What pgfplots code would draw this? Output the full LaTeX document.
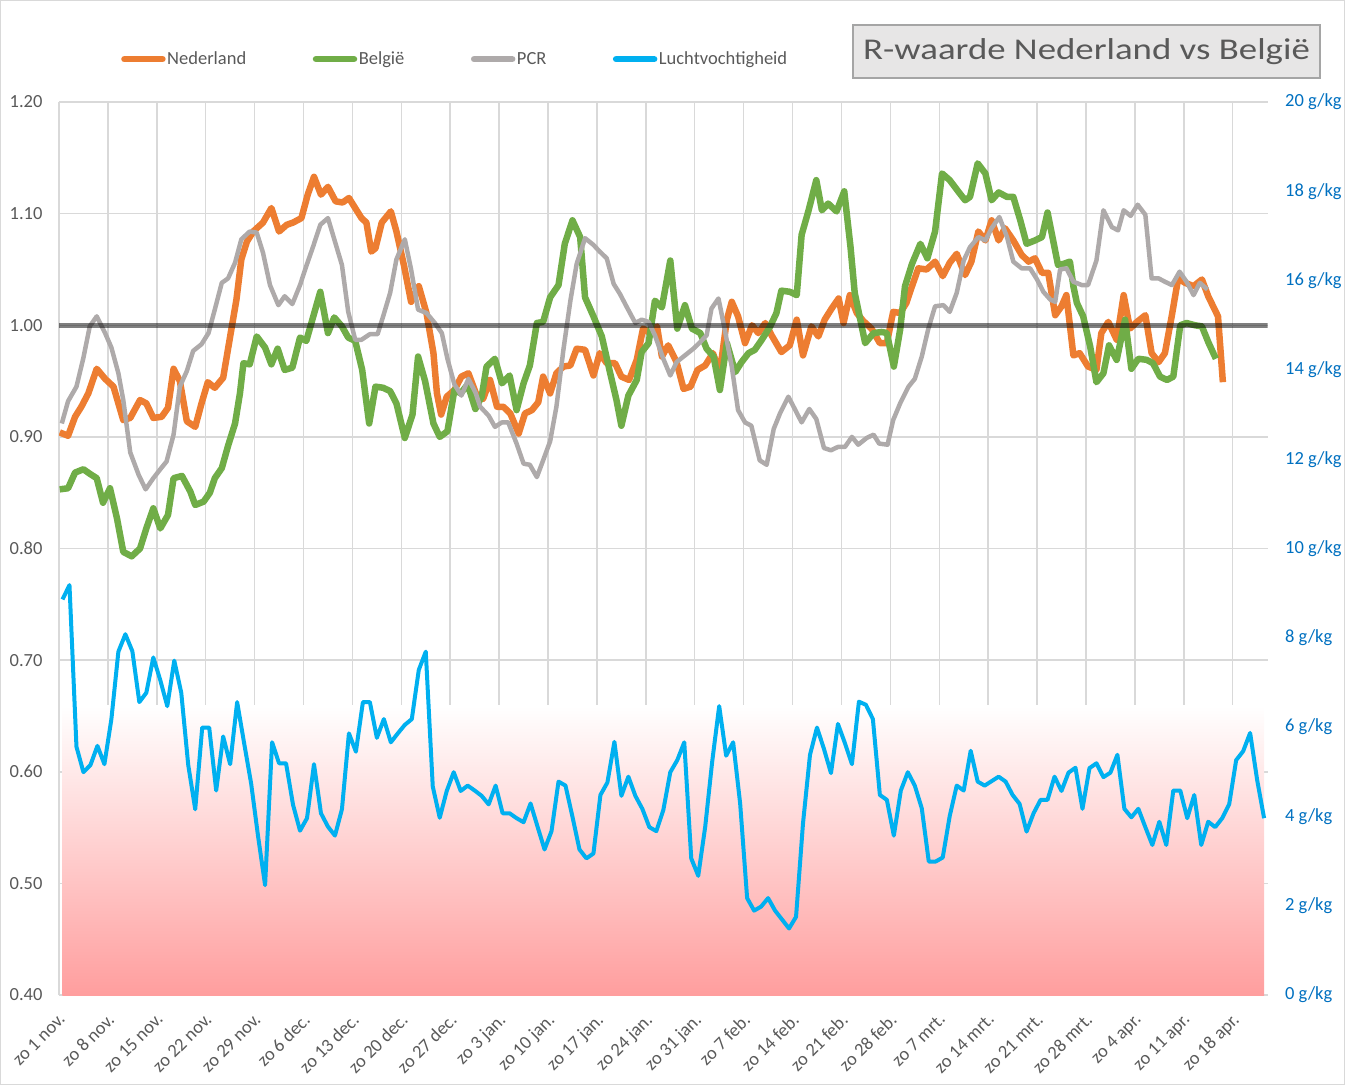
\documentclass[border=0pt]{standalone}
\usepackage{pgfplots}
\pgfplotsset{compat=1.18}
\usepackage{pgfplotstable}
\usepackage{fontspec}
\setmainfont{Carlito}
\definecolor{ned}{HTML}{ED7D31}
\definecolor{bel}{HTML}{70AD47}
\definecolor{pcr}{HTML}{AEAAAA}
\definecolor{hum}{HTML}{00B0F0}
\definecolor{txtc}{HTML}{595959}
\definecolor{rblue}{HTML}{0070C0}
\definecolor{gridc}{HTML}{D9D9D9}
\definecolor{pinkc}{RGB}{255,158,158}
\definecolor{boxfill}{HTML}{E7E6E6}
\definecolor{boxdraw}{HTML}{A5A5A5}

\pgfplotstableread{
g
8.86
9.18
5.56
4.99
5.15
5.58
5.17
6.18
7.69
8.08
7.70
6.56
6.77
7.56
7.05
6.47
7.49
6.77
5.15
4.16
5.99
5.99
4.58
5.79
5.17
6.56
5.64
4.74
3.55
2.46
5.66
5.19
5.19
4.26
3.68
3.96
5.17
4.07
3.77
3.57
4.16
5.86
5.45
6.56
6.56
5.76
6.18
5.66
5.86
6.05
6.18
7.28
7.69
4.67
3.97
4.57
4.99
4.57
4.69
4.58
4.46
4.27
4.69
4.07
4.07
3.96
3.87
4.29
3.77
3.26
3.67
4.78
4.69
3.99
3.26
3.06
3.17
4.48
4.76
5.67
4.46
4.89
4.46
4.17
3.76
3.67
4.14
4.99
5.26
5.66
3.06
2.67
3.77
5.23
6.47
5.36
5.66
4.29
2.17
1.89
1.98
2.17
1.89
1.69
1.49
1.75
3.85
5.38
5.99
5.51
4.97
6.07
5.64
5.17
6.57
6.50
6.18
4.48
4.37
3.57
4.58
4.99
4.69
4.18
2.99
2.99
3.08
4.01
4.69
4.58
5.47
4.78
4.69
4.79
4.89
4.78
4.48
4.28
3.66
4.07
4.37
4.37
4.89
4.57
4.98
5.09
4.17
5.08
5.19
4.88
4.98
5.38
4.17
3.98
4.17
3.76
3.36
3.88
3.36
4.58
4.58
3.96
4.48
3.36
3.88
3.76
3.96
4.27
5.26
5.46
5.87
4.82
3.96
}\humtab

\begin{document}
\begin{tikzpicture}[x=1pt,y=1pt]
\useasboundingbox (0,0) rectangle (1345,-1085);

\begin{axis}[
  at={(59pt,-995pt)}, anchor=south west,
  scale only axis, width=1208.6pt, height=893pt,
  xmin=0, xmax=173, ymin=0.4, ymax=1.2,
  xtick={0,7,...,168},
  xticklabels={zo 1 nov.,zo 8 nov.,zo 15 nov.,zo 22 nov.,zo 29 nov.,zo 6 dec.,zo 13 dec.,zo 20 dec.,zo 27 dec.,zo 3 jan.,zo 10 jan.,zo 17 jan.,zo 24 jan.,zo 31 jan.,zo 7 feb.,zo 14 feb.,zo 21 feb.,zo 28 feb.,zo 7 mrt.,zo 14 mrt.,zo 21 mrt.,zo 28 mrt.,zo 4 apr.,zo 11 apr.,zo 18 apr.},
  ytick={0.4,0.5,0.6,0.7,0.8,0.9,1.0,1.1,1.2},
  /pgf/number format/assume math mode=true,
  yticklabel style={/pgf/number format/.cd, fixed, fixed zerofill, precision=2, /tikz/.cd, xshift=-13pt},
  tick label style={font=\fontsize{18.5}{20}\selectfont, text=txtc},
  xticklabel style={rotate=45, anchor=north east, inner sep=1pt, xshift=-12pt, yshift=-10pt},
  grid=major, major grid style={draw=gridc, line width=1.5pt},
  axis line style={draw=none},
  major tick length=0pt,
  legend columns=4,
  legend cell align=left,
  legend image code/.code={\draw[#1, line width=6.5pt, line cap=round] (0pt,0pt) -- (38pt,0pt);},
  legend style={at={(0.0513,1.048)}, anchor=west, draw=none, fill=none,
    inner sep=0pt, font=\fontsize{18.5}{20}\selectfont, text=txtc,
    nodes={inner sep=1.5pt},
    /tikz/every even column/.append style={column sep=65pt}},
]
\addplot[draw=none, top color=white, bottom color=pinkc, forget plot]
  coordinates {(0.5,0.40) (0.5,0.659) (172.5,0.659) (172.5,0.40)} -- cycle;

\addplot[ned, line width=6.5pt, line join=round] coordinates {
(0.1,0.904) (1.3,0.901) (2.3,0.918) (3.2,0.927) (4.2,0.939) (5.4,0.961) (6.6,0.952) (7.8,0.945) (9.2,0.915) (10.2,0.917) (11.6,0.933) (12.5,0.930) (13.5,0.917) (14.7,0.918) (15.6,0.926) (16.4,0.961) (17.3,0.950) (18.3,0.914) (19.5,0.909) (20.4,0.930) (21.3,0.949) (22.3,0.944) (23.5,0.953) (24.5,0.990) (25.4,1.023) (26.1,1.059) (26.9,1.075) (27.8,1.084) (29.2,1.092) (30.4,1.105) (31.5,1.084) (32.6,1.090) (33.5,1.092) (34.7,1.096) (35.6,1.117) (36.5,1.133) (37.5,1.117) (38.5,1.124) (39.6,1.111) (40.6,1.110) (41.5,1.114) (42.4,1.105) (43.3,1.096) (44.0,1.092) (44.7,1.066) (45.3,1.069) (46.2,1.092) (47.5,1.102) (48.3,1.084) (49.4,1.053) (50.4,1.021) (51.5,1.035) (52.6,1.011) (53.6,0.975) (54.1,0.939) (54.7,0.920) (55.5,0.936) (56.6,0.942) (57.6,0.954) (58.6,0.957) (59.8,0.937) (60.7,0.934) (61.7,0.951) (62.7,0.927) (63.6,0.927) (64.6,0.921) (65.8,0.903) (66.7,0.921) (67.7,0.924) (68.6,0.931) (69.3,0.954) (70.3,0.939) (71.2,0.957) (72.2,0.963) (73.2,0.964) (74.1,0.979) (75.3,0.978) (76.5,0.955) (77.4,0.975) (78.4,0.966) (79.6,0.966) (80.5,0.954) (81.6,0.951) (82.7,0.969) (83.6,0.997) (84.6,0.993) (85.6,0.999) (86.3,0.972) (87.2,0.982) (88.4,0.967) (89.4,0.943) (90.4,0.945) (91.4,0.960) (92.5,0.964) (93.6,0.975) (94.6,0.958) (95.6,1.005) (96.3,1.021) (97.2,1.008) (98.2,0.984) (99.2,1.000) (100.1,0.993) (101.1,1.002) (102.0,0.991) (103.4,0.976) (104.6,0.982) (105.6,1.005) (106.5,0.973) (107.7,0.999) (108.7,0.990) (109.6,1.005) (110.6,1.015) (111.6,1.024) (112.3,1.002) (113.2,1.027) (114.2,1.011) (115.1,1.004) (116.3,0.997) (117.5,0.984) (118.5,0.984) (119.4,1.012) (120.4,1.011) (121.3,1.020) (122.1,1.035) (123.0,1.051) (124.2,1.050) (125.4,1.057) (126.5,1.044) (127.5,1.056) (128.5,1.064) (129.7,1.045) (130.6,1.057) (131.6,1.084) (132.6,1.076) (133.5,1.094) (134.5,1.076) (135.4,1.087) (136.6,1.076) (137.8,1.063) (138.8,1.057) (139.7,1.060) (140.7,1.047) (141.6,1.047) (142.6,1.009) (143.5,1.017) (144.2,1.027) (145.2,0.973) (146.1,0.975) (147.3,0.963) (148.5,0.960) (149.2,0.993) (150.2,1.003) (151.4,0.987) (152.4,1.027) (153.3,0.997) (154.3,1.003) (155.5,1.009) (156.4,0.975) (157.4,0.967) (158.3,0.975) (159.3,1.009) (160.2,1.042) (161.2,1.038) (162.4,1.035) (163.6,1.041) (164.5,1.026) (165.9,1.008) (166.6,0.949)
};
\addlegendentry{Nederland}

\addplot[bel, line width=6.5pt, line join=round] coordinates {
(0.1,0.853) (1.3,0.854) (2.3,0.868) (3.5,0.871) (4.4,0.867) (5.4,0.863) (6.3,0.841) (7.3,0.854) (8.3,0.827) (9.2,0.797) (10.4,0.793) (11.6,0.800) (12.5,0.818) (13.5,0.836) (14.5,0.818) (15.6,0.830) (16.4,0.863) (17.6,0.865) (18.8,0.851) (19.5,0.839) (20.7,0.842) (21.6,0.850) (22.3,0.863) (23.3,0.872) (24.2,0.892) (25.2,0.912) (25.9,0.939) (26.4,0.966) (27.3,0.965) (28.3,0.990) (29.5,0.980) (30.4,0.965) (31.3,0.979) (32.3,0.960) (33.4,0.962) (34.5,0.989) (35.4,0.986) (36.4,1.008) (37.4,1.030) (38.5,0.993) (39.4,1.007) (40.5,0.999) (41.4,0.989) (42.4,0.986) (43.4,0.960) (44.4,0.912) (45.3,0.945) (46.4,0.944) (47.4,0.941) (48.3,0.930) (49.5,0.899) (50.6,0.920) (51.4,0.972) (52.4,0.950) (53.6,0.912) (54.5,0.900) (55.6,0.905) (56.6,0.942) (57.5,0.939) (58.5,0.947) (59.6,0.925) (60.5,0.936) (61.2,0.963) (62.4,0.970) (63.4,0.948) (64.5,0.955) (65.5,0.924) (66.5,0.948) (67.4,0.964) (68.4,1.002) (69.3,1.003) (70.3,1.025) (71.5,1.036) (72.4,1.073) (73.5,1.094) (74.6,1.079) (75.3,1.025) (76.5,1.008) (77.7,0.990) (78.9,0.957) (79.8,0.933) (80.5,0.910) (81.5,0.937) (82.7,0.951) (83.4,0.976) (84.4,0.984) (85.3,1.022) (86.3,1.016) (87.5,1.058) (88.5,0.997) (89.6,1.018) (90.6,0.997) (91.8,0.993) (92.7,0.979) (93.7,0.972) (94.6,0.942) (95.6,0.984) (96.8,0.958) (97.7,0.967) (98.7,0.975) (99.6,0.978) (100.6,0.987) (101.8,0.999) (102.7,1.011) (103.4,1.031) (104.6,1.030) (105.6,1.027) (106.3,1.081) (107.3,1.103) (108.4,1.130) (109.2,1.103) (110.1,1.109) (111.3,1.102) (112.4,1.120) (113.3,1.070) (113.9,1.029) (115.4,0.984) (116.6,0.993) (117.8,0.994) (118.5,0.993) (119.5,0.963) (120.4,0.996) (121.1,1.035) (122.1,1.055) (123.3,1.073) (124.3,1.060) (125.4,1.084) (126.4,1.136) (127.5,1.130) (128.7,1.120) (129.7,1.112) (130.4,1.115) (131.5,1.145) (132.6,1.136) (133.5,1.112) (134.5,1.119) (135.7,1.115) (136.6,1.115) (137.6,1.094) (138.5,1.073) (139.7,1.076) (140.7,1.079) (141.5,1.101) (142.3,1.076) (143.0,1.054) (143.8,1.055) (144.7,1.057) (145.2,1.035) (145.7,1.020) (146.6,1.008) (147.6,0.981) (148.5,0.949) (149.5,0.957) (150.3,0.982) (151.4,0.969) (152.6,1.005) (153.5,0.961) (154.5,0.970) (155.7,0.969) (156.6,0.966) (157.6,0.954) (158.6,0.951) (159.5,0.954) (160.5,1.000) (161.4,1.002) (162.6,1.000) (163.6,0.999) (164.5,0.985) (165.6,0.970)
};
\addlegendentry{België}

\addplot[pcr, line width=4.5pt, line join=round] coordinates {
(0.4,0.912) (1.3,0.932) (2.5,0.945) (3.5,0.971) (4.4,0.999) (5.4,1.008) (6.6,0.993) (7.5,0.980) (8.5,0.957) (9.2,0.933) (10.2,0.886) (11.4,0.866) (12.4,0.853) (13.5,0.863) (14.5,0.871) (15.4,0.878) (16.4,0.902) (17.3,0.945) (18.3,0.959) (19.2,0.977) (20.4,0.983) (21.4,0.993) (22.3,1.014) (23.3,1.038) (24.2,1.042) (25.2,1.056) (26.1,1.077) (27.3,1.084) (28.3,1.083) (29.2,1.065) (30.2,1.036) (31.4,1.018) (32.3,1.026) (33.4,1.019) (34.5,1.036) (35.4,1.053) (36.4,1.071) (37.4,1.090) (38.5,1.096) (39.5,1.075) (40.5,1.054) (41.4,1.012) (42.4,0.987) (43.3,0.987) (44.5,0.992) (45.6,0.992) (46.4,1.008) (47.4,1.029) (48.3,1.059) (49.5,1.077) (50.4,1.050) (51.4,1.014) (52.6,1.011) (53.8,1.002) (54.8,0.993) (55.6,0.970) (56.6,0.947) (57.6,0.937) (58.6,0.952) (59.6,0.940) (60.3,0.927) (61.5,0.919) (62.4,0.909) (63.4,0.913) (64.3,0.913) (65.5,0.894) (66.5,0.876) (67.4,0.875) (68.4,0.864) (69.3,0.879) (70.3,0.896) (71.2,0.927) (72.2,0.978) (73.2,1.022) (74.1,1.055) (75.3,1.078) (76.5,1.072) (77.4,1.066) (78.4,1.060) (79.4,1.037) (80.3,1.028) (81.3,1.016) (82.5,1.002) (83.4,1.005) (84.4,1.003) (85.3,0.991) (86.5,0.970) (87.5,0.955) (88.4,0.967) (89.6,0.973) (90.8,0.979) (91.8,0.985) (92.7,0.991) (93.4,1.015) (94.4,1.024) (95.3,0.996) (96.3,0.963) (97.2,0.924) (98.2,0.913) (99.1,0.910) (100.3,0.879) (101.3,0.875) (102.3,0.907) (103.2,0.921) (104.4,0.936) (105.4,0.924) (106.3,0.913) (107.4,0.925) (108.4,0.916) (109.5,0.890) (110.5,0.888) (111.5,0.891) (112.5,0.891) (113.5,0.900) (114.4,0.893) (115.6,0.899) (116.6,0.902) (117.4,0.894) (118.6,0.893) (119.4,0.915) (120.4,0.930) (121.6,0.945) (122.5,0.952) (123.5,0.972) (124.4,0.996) (125.4,1.017) (126.6,1.018) (127.5,1.012) (128.5,1.029) (129.5,1.058) (130.4,1.070) (131.6,1.079) (132.6,1.076) (133.5,1.087) (134.6,1.097) (135.7,1.079) (136.6,1.057) (137.8,1.051) (139.0,1.051) (140.0,1.041) (140.9,1.030) (141.9,1.023) (142.6,1.021) (143.3,1.050) (144.2,1.051) (145.2,1.039) (146.4,1.036) (147.3,1.036) (148.5,1.058) (149.5,1.103) (150.7,1.088) (151.6,1.085) (152.4,1.103) (153.4,1.098) (154.4,1.108) (155.5,1.099) (156.4,1.042) (157.4,1.042) (158.3,1.039) (159.3,1.036) (160.4,1.048) (161.4,1.039) (162.4,1.027) (163.3,1.038) (164.4,1.032)
};
\addlegendentry{PCR}

\addlegendimage{hum, line width=4pt}
\addlegendentry{Luchtvochtigheid}

\addplot[black, opacity=0.5, line width=5pt, forget plot] coordinates {(0,1) (173,1)};
\end{axis}

\begin{axis}[
  at={(59pt,-995pt)}, anchor=south west,
  scale only axis, width=1208.6pt, height=893pt,
  xmin=0, xmax=173, ymin=0, ymax=20,
  axis x line=none, axis y line*=right,
  y axis line style={draw=none},
  ytick={0,2,4,6,8,10,12,14,16,18,20},
  /pgf/number format/assume math mode=true,
  yticklabel={\pgfmathprintnumber[fixed,precision=0]{\tick} g/kg},
  yticklabel style={font=\fontsize{18.5}{20}\selectfont, text=rblue, anchor=west, xshift=14pt},
  major tick length=0pt,
]
\addplot[hum, line width=4pt, line join=round] table[x expr=\coordindex+0.5, y=g] {\humtab};
\end{axis}

\node[draw=boxdraw, fill=boxfill, line width=1.3pt, minimum width=467pt, minimum height=53pt, inner sep=0pt] at (1086.5,-51.5)
  {\raisebox{-2pt}{\scalebox{1.27}[1.04]{\fontsize{29}{30}\selectfont\color{txtc}R-waarde Nederland vs België}}};
\draw[gridc, line width=1.2pt] (0.6,-0.6) rectangle (1344.4,-1084.4);
\end{tikzpicture}
\end{document}
